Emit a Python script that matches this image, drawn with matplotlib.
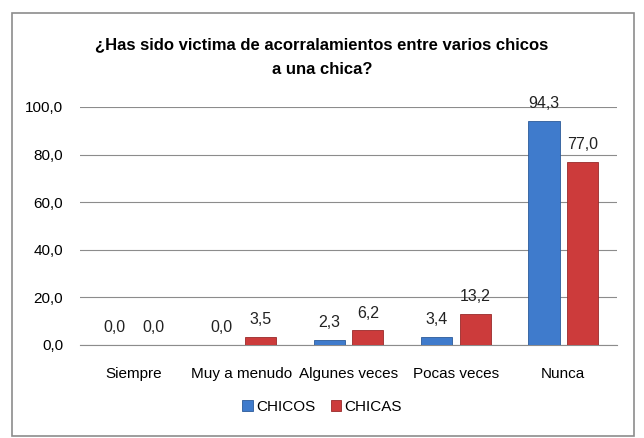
import matplotlib.pyplot as plt
from matplotlib.patches import Rectangle
import numpy as np

categories = ['Siempre', 'Muy a menudo', 'Algunes veces', 'Pocas veces', 'Nunca']
chicos = [0.0, 0.0, 2.3, 3.4, 94.3]
chicas = [0.0, 3.5, 6.2, 13.2, 77.0]
series_names = ['CHICOS', 'CHICAS']
colors = ['#3f7bcc', '#cc3b3b']
edges = ['#2c5a99', '#992a2a']

plt.rcParams['font.family'] = ['Liberation Sans', 'DejaVu Sans']


def fmt(v):
    return ('%.1f' % v).replace('.', ',')


fig = plt.figure(figsize=(6.44, 4.38), dpi=100)
fig.patches.append(Rectangle((12 / 644, 2 / 438), 622 / 644, 423 / 438, transform=fig.transFigure,
                             fill=False, edgecolor='#8c8c8c', linewidth=1.2))

ax = fig.add_axes([80 / 644, 1 - 345 / 438, 537 / 644, 238 / 438])
x = np.arange(len(categories))
w = 0.29
off = 0.18
for vals, dx, c, e, name in [(chicos, -off, colors[0], edges[0], series_names[0]),
                             (chicas, off, colors[1], edges[1], series_names[1])]:
    bars = ax.bar(x + dx, vals, w, color=c, edgecolor=e, linewidth=0.6, label=name, zorder=3)
    for b, v in zip(bars, vals):
        ax.text(b.get_x() + b.get_width() / 2, v + 4.0, fmt(v), ha='center', va='bottom',
                fontsize=11.5, color='#222222')

ax.set_xlim(-0.5, len(categories) - 0.5)
ax.set_ylim(0, 100)
ax.set_yticks(range(0, 101, 20))
ax.set_yticklabels([fmt(t) for t in range(0, 101, 20)], fontsize=11)
ax.set_xticks(x)
ax.set_xticklabels(categories, fontsize=11)
ax.tick_params(axis='both', length=0)
ax.tick_params(axis='x', pad=16)
ax.tick_params(axis='y', pad=12)
ax.grid(axis='y', color='#8c8c8c', linewidth=0.8, zorder=0)
for s in ['top', 'right', 'left']:
    ax.spines[s].set_visible(False)
ax.spines['bottom'].set_color('#8c8c8c')

fig.text(0.5, 1 - 57 / 438, '¿Has sido victima de acorralamientos entre varios chicos\na una chica?',
         ha='center', va='center', fontsize=12, fontweight='bold', linespacing=1.75)

fig.legend(loc='center', bbox_to_anchor=(0.5, 1 - 407 / 438), ncol=2, frameon=False,
           fontsize=11, handlelength=0.7, handleheight=0.7, handletextpad=0.2, columnspacing=1.0)

fig.savefig('out.png', dpi=100)
